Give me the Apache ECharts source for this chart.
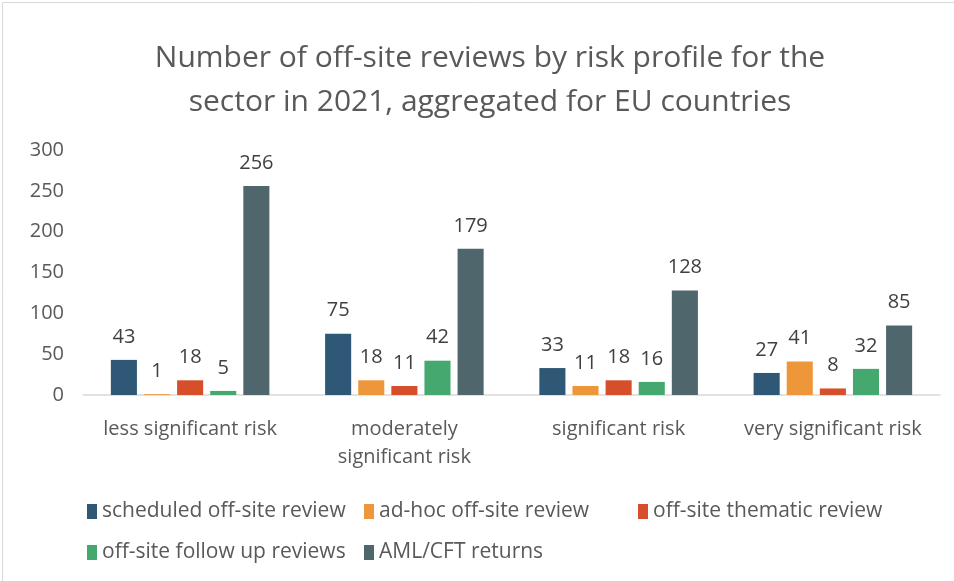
<!DOCTYPE html>
<html>
<head>
<meta charset="utf-8">
<script src="https://cdn.jsdelivr.net/npm/echarts@6/dist/echarts.min.js"></script>
<style>
	html,body{margin:0;padding:0;background:#fff;}
	#chart{width:954px;height:581px;}
</style>
</head>
<body>
<div id="chart"></div>
<script>
// data
var categories = ['less significant risk', 'moderately\nsignificant risk', 'significant risk', 'very significant risk'];
var scheduled  = [43, 75, 33, 27];
var adhoc      = [1, 18, 11, 41];
var thematic   = [18, 11, 18, 8];
var followUp   = [5, 42, 16, 32];
var returns    = [256, 179, 128, 85];
var seriesNames = ['scheduled off-site review', 'ad-hoc off-site review', 'off-site thematic review', 'off-site follow up reviews', 'AML/CFT returns'];
var colorList = ['#2E5875', '#EE963A', '#D64F2A', '#45A86E', '#4F666D'];

var fontName = 'Open Sans';
var textColor = '#595959';

function makeSeries(name, data, color){
	return {
		name: name,
		type: 'bar',
		data: data,
		barGap: '27%',
		barCategoryGap: '26%',
		itemStyle: {color: color},
		label: {
			show: true,
			position: 'top',
			distance: 13,
			fontFamily: fontName,
			fontSize: 20,
			color: '#404040'
		}
	};
}

function legendCol(left, names){
	return {
		orient: 'vertical',
		left: left,
		top: 496,
		itemGap: 20,
		itemWidth: 10,
		itemHeight: 15,
		icon: 'rect',
		data: names,
		textStyle: {fontFamily: fontName, fontSize: 21, color: textColor}
	};
}

var myChart = echarts.init(document.getElementById('chart'));
var option = {
	animation: false,
	color: colorList,
	title: {
		text: 'Number of off-site reviews by risk profile for the\nsector in 2021, aggregated for EU countries',
		left: 485,
		textAlign: 'center',
		top: 31,
		textStyle: {fontFamily: fontName, fontSize: 30, fontWeight: 'normal', color: textColor, lineHeight: 44}
	},
	legend: [
		legendCol(82, [seriesNames[0], seriesNames[3]]),
		legendCol(359, [seriesNames[1], seriesNames[4]]),
		legendCol(633, [seriesNames[2]])
	],
	grid: {left: 83, right: 14, top: 150, bottom: 186, containLabel: false},
	xAxis: {
		type: 'category',
		data: categories,
		axisLine: {lineStyle: {color: '#D9D9D9', width: 1.5}},
		axisTick: {show: false},
		axisLabel: {fontFamily: fontName, fontSize: 20, color: textColor, margin: 20, lineHeight: 28, interval: 0}
	},
	yAxis: {
		type: 'value',
		min: 0,
		max: 300,
		interval: 50,
		splitLine: {show: false},
		axisLine: {show: false},
		axisTick: {show: false},
		axisLabel: {fontFamily: fontName, fontSize: 20, color: textColor, margin: 19}
	},
	graphic: [{
		type: 'rect',
		left: 0, top: 0,
		shape: {width: 953, height: 580},
		style: {fill: 'none', stroke: '#D9D9D9', lineWidth: 1}
	}],
	series: [
		makeSeries(seriesNames[0], scheduled, colorList[0]),
		makeSeries(seriesNames[1], adhoc, colorList[1]),
		makeSeries(seriesNames[2], thematic, colorList[2]),
		makeSeries(seriesNames[3], followUp, colorList[3]),
		makeSeries(seriesNames[4], returns, colorList[4])
	]
};
myChart.setOption(option);
</script>
</body>
</html>
